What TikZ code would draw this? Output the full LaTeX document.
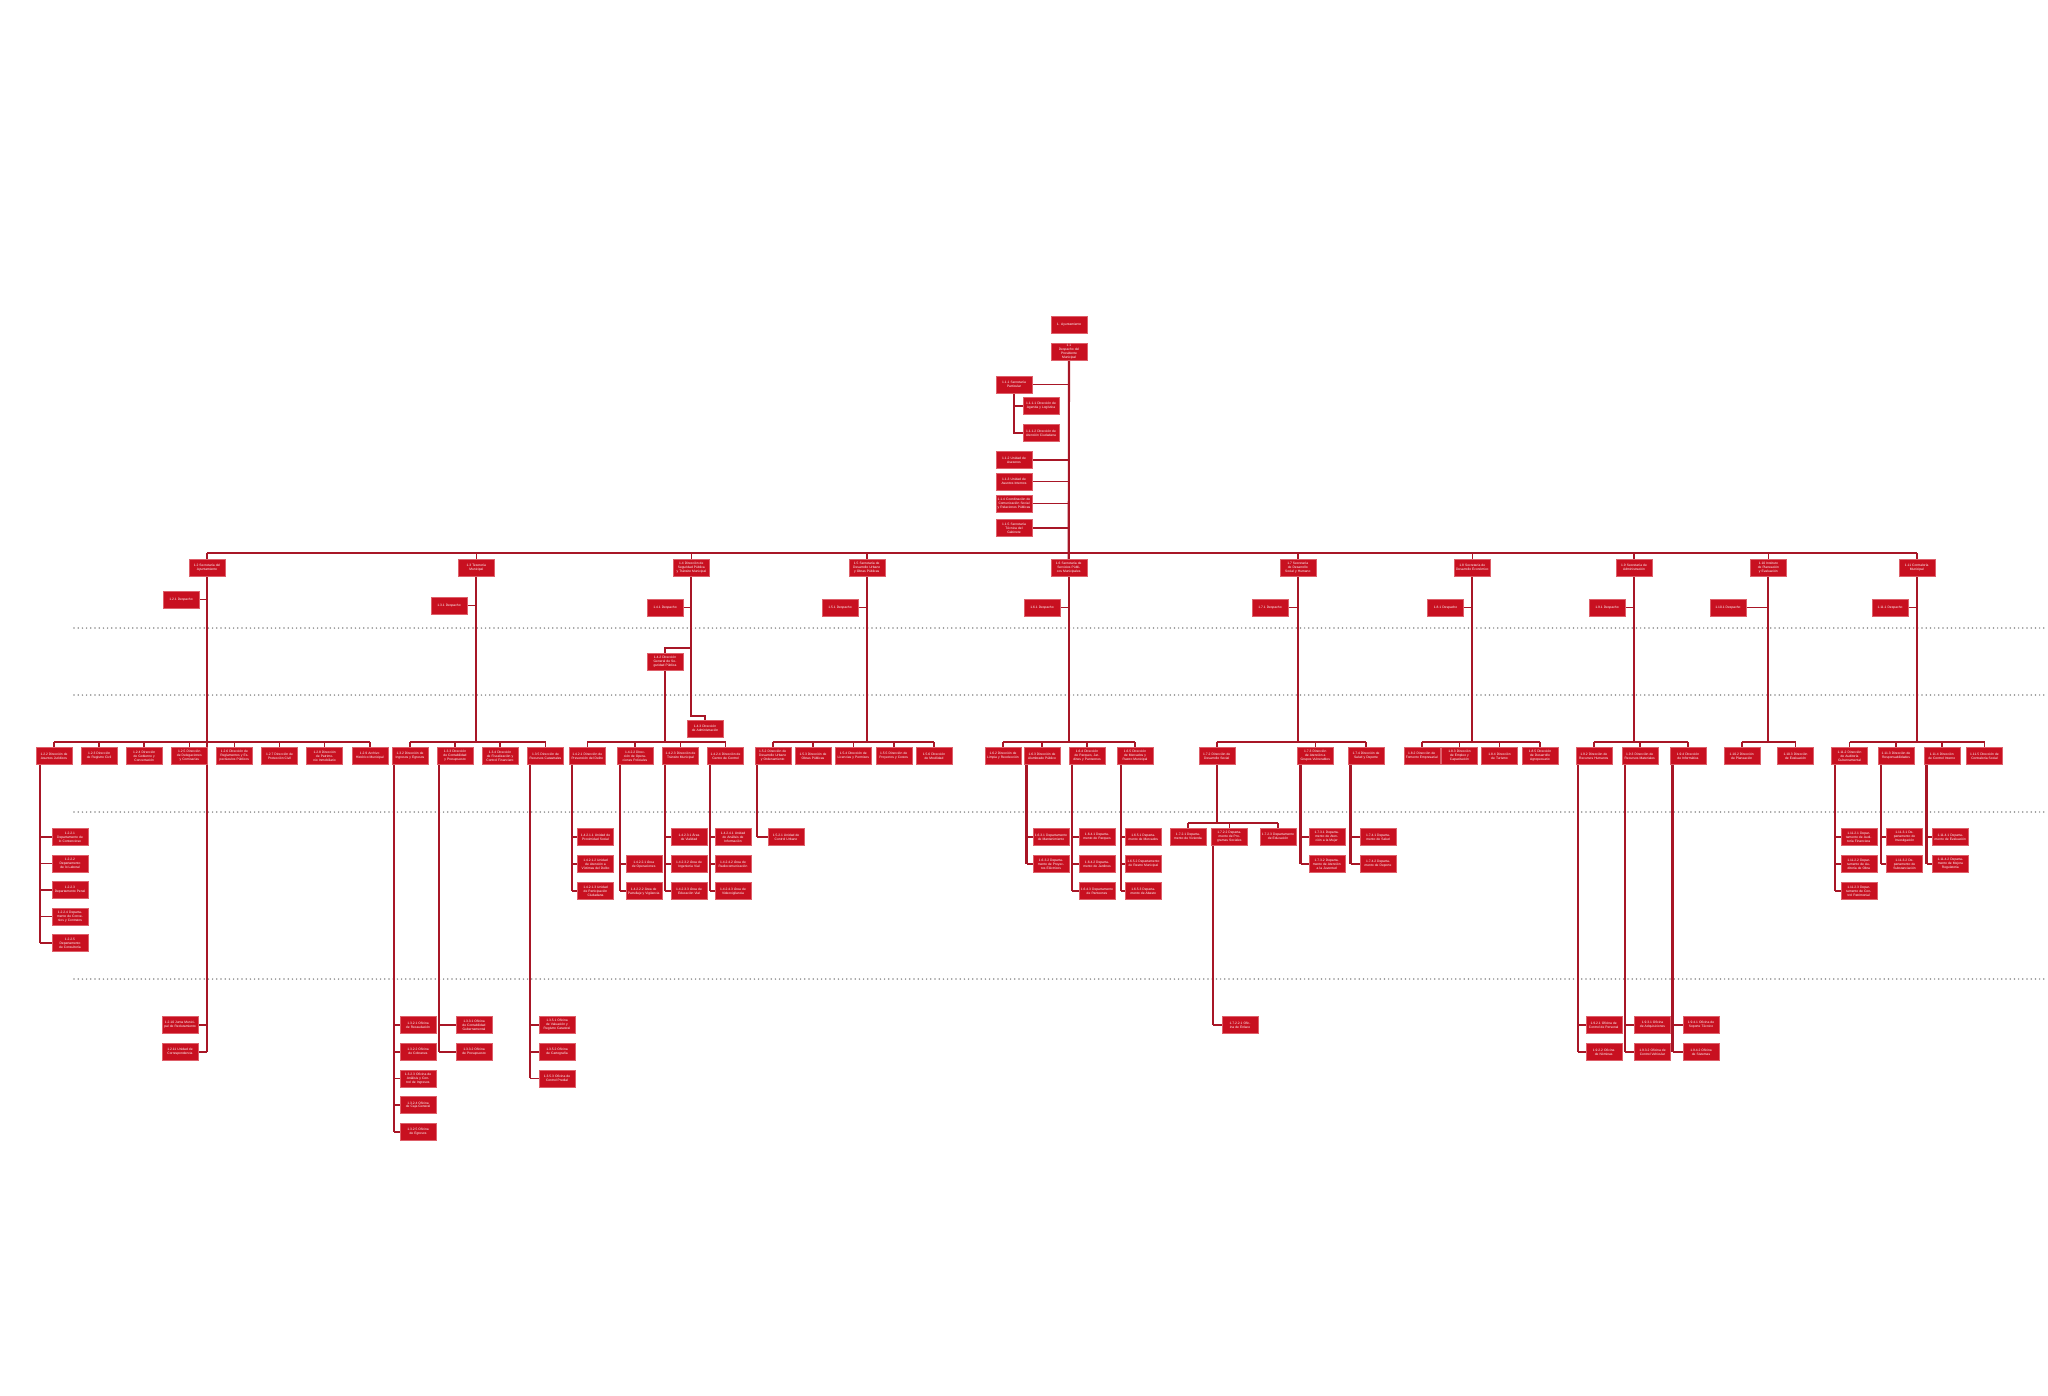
\documentclass[tikz,border=0pt]{standalone}
\usepackage{fontspec}
\setmainfont{Liberation Sans}
\usetikzlibrary{calc}
\pgfdeclarelayer{paper}
\pgfdeclarelayer{bg}
\pgfsetlayers{paper,bg,main}
\definecolor{boxred}{RGB}{200,16,32}
\definecolor{boxedge}{RGB}{222,96,106}
\definecolor{linered}{RGB}{168,22,38}
\definecolor{dotgray}{RGB}{140,140,140}
\tikzset{
 bx/.style={rectangle, fill=boxred, draw=boxedge, line width=0.4pt, minimum width=36pt, minimum height=17pt, text width=33pt, inner sep=0.6pt, align=center, text=white, font=\fontsize{3.3}{3.9}\selectfont},
 ln/.style={draw=linered, line width=2.1pt},
 tk/.style={draw=linered, line width=1.6pt},
 dotrow/.style={draw=dotgray, line width=1.7pt, line cap=round, dash pattern=on 0pt off 4.2pt},
}
\newcommand{\subdrop}[4]{%
 \coordinate (L#1) at ([xshift=#2pt]#1.south west);
 \draw[ln] (L#1) -- (L#1 |- #4.west);
 \foreach \s in {#3} \draw[tk] (\s.west) -- (\s.west -| L#1);
}
\newcommand{\kidbus}[3]{%
 \draw[tk] (#1.north |- bus) -- (#2.north |- bus);
 \foreach \s in {#3} \draw[tk] (\s.north) -- (\s.north |- bus);
}
\begin{document}
\begin{tikzpicture}[x=1pt,y=-1pt]
\begin{pgfonlayer}{paper}
\fill[white] (0,0) rectangle (2048,1395);
\foreach \yy in {628,695,812,979} \draw[dotrow] (74,\yy) -- (2046,\yy);
\end{pgfonlayer}
\useasboundingbox (0,0) rectangle (2048,1395);
\coordinate (hbus) at (0,553);
\coordinate (bus) at (0,742);
\coordinate (sbus) at (0,822.7);

% ---------- top ----------
\node[bx] (t1) at (1069,325) {1. Ayuntamiento};
\node[bx] (t2) at (1069,351.5) {1.1\\Despacho del Presidente\\Municipal};
\node[bx] (p1) at (1014,384.5) {1.1.1 Secretaría\\Particular};
\node[bx] (p11) at (1041,406) {1.1.1.1 Dirección de\\Agenda y Logística};
\node[bx] (p12) at (1041,433) {1.1.1.2 Dirección de\\Atención Ciudadana};
\node[bx] (p2) at (1014,460) {1.1.2 Unidad de\\Asesores};
\node[bx] (p3) at (1014,481.5) {1.1.3 Unidad de\\Asuntos Internos};
\node[bx] (p4) at (1014,503.5) {1.1.4 Coordinación de Comunicación Social y Relaciones Públicas};
\node[bx] (p5) at (1014,528) {1.1.5 Secretaría\\Técnica del\\Gabinete};

% ---------- headers ----------
\node[bx] (h1) at (207,567.5) {1.2 Secretaría del\\Ayuntamiento};
\node[bx] (h2) at (476.3,567.5) {1.3 Tesorería\\Municipal};
\node[bx] (h3) at (691.3,567.5) {1.4 Dirección de Seguridad Pública y Tránsito Municipal};
\node[bx] (h4) at (866.7,567.5) {1.5 Secretaría de Desarrollo Urbano y Obras Públicas};
\node[bx] (h5) at (1068.7,567.5) {1.6 Secretaría de Servicios Públicos Municipales};
\node[bx] (h6) at (1297.7,567.5) {1.7 Secretaría de Desarrollo Social y Humano};
\node[bx] (h7) at (1472.3,567.5) {1.8 Secretaría de Desarrollo Económico};
\node[bx] (h8) at (1634,567.5) {1.9 Secretaría de\\Administración};
\node[bx] (h9) at (1768.3,567.5) {1.10 Instituto de Planeación y Evaluación};
\node[bx] (h10) at (1916.7,567.5) {1.11 Contraloría\\Municipal};

% ---------- assistants ----------
\node[bx] (a1) at (181,599.5) {1.2.1 Despacho};
\node[bx] (a2) at (449,605.5) {1.3.1 Despacho};
\node[bx] (a3) at (665,607.5) {1.4.1 Despacho};
\node[bx] (a4) at (840,607.5) {1.5.1 Despacho};
\node[bx] (a5) at (1042,607.5) {1.6.1 Despacho};
\node[bx] (a6) at (1270,607.5) {1.7.1 Despacho};
\node[bx] (a7) at (1445.5,607.5) {1.8.1 Despacho};
\node[bx] (a8) at (1607,607.5) {1.9.1 Despacho};
\node[bx] (a9) at (1728,607.5) {1.10.1 Despacho};
\node[bx] (a10) at (1890,607.5) {1.11.1 Despacho};

% ---------- section 1 ----------
\node[bx] (c1a) at (54,756) {1.2.2 Dirección de Asuntos Jurídicos};
\node[bx] (c1b) at (99.1,756) {1.2.3 Dirección de Registro Civil};
\node[bx] (c1c) at (144.2,756) {1.2.4 Dirección de Gobierno y Concertación};
\node[bx] (c1d) at (189.3,756) {1.2.5 Dirección de Delegaciones y Comisarías};
\node[bx] (c1e) at (234.4,756) {1.2.6 Dirección de Reglamentos y Espectáculos Públicos};
\node[bx] (c1f) at (279.5,756) {1.2.7 Dirección de Protección Civil};
\node[bx] (c1g) at (324.6,756) {1.2.8 Dirección de Patrimonio Inmobiliario};
\node[bx] (c1h) at (369.7,756) {1.2.9 Archivo Histórico Municipal};
\node[bx] (s1a1) at (70,837) {1.2.2.1\\Departamento de lo Contencioso};
\node[bx] (s1a2) at (70,863.5) {1.2.2.2\\Departamento de lo Laboral};
\node[bx] (s1a3) at (70,890) {1.2.2.3\\Departamento Penal};
\node[bx] (s1a4) at (70,916.5) {1.2.2.4 Departamento de Convenios y Contratos};
\node[bx] (s1a5) at (70,943) {1.2.2.5\\Departamento de Consultoría};
\node[bx] (b1) at (180,1025) {1.2.10 Junta Municipal de Reclutamiento};
\node[bx] (b2) at (180,1052) {1.2.11 Unidad de Correspondencia};

% ---------- section 2 ----------
\node[bx] (c2a) at (410,756) {1.3.2 Dirección de Ingresos y Egresos};
\node[bx] (c2b) at (455,756) {1.3.3 Dirección de Contabilidad y Presupuesto};
\node[bx] (c2c) at (500,756) {1.3.4 Dirección de Fiscalización y Control Financiero};
\node[bx] (c2d) at (545.5,756) {1.3.5 Dirección de Recursos Catastrales};
\node[bx] (s2a1) at (418,1025) {1.3.2.1 Oficina de Recaudación};
\node[bx] (s2a2) at (418,1051.7) {1.3.2.2 Oficina de Cobranza};
\node[bx] (s2a3) at (418,1078.4) {1.3.2.3 Oficina de Análisis y Control de Ingresos};
\node[bx] (s2a4) at (418,1105.1) {1.3.2.4 Oficina de Caja General};
\node[bx] (s2a5) at (418,1131.8) {1.3.2.5 Oficina de Egresos};
\node[bx] (s2b1) at (474,1025) {1.3.3.1 Oficina de Contabilidad Gubernamental};
\node[bx] (s2b2) at (474,1051.7) {1.3.3.2 Oficina de Presupuesto};
\node[bx] (s2d1) at (557,1025) {1.3.5.1 Oficina de Valuación y Registro Catastral};
\node[bx] (s2d2) at (557,1051.7) {1.3.5.2 Oficina de Cartografía};
\node[bx] (s2d3) at (557,1078.4) {1.3.5.3 Oficina de Control Predial};

% ---------- section 3 ----------
\node[bx] (m1) at (665,661.5) {1.4.2 Dirección General de Seguridad Pública};
\node[bx] (m2) at (705,728.5) {1.4.3 Dirección de Administración};
\node[bx] (c3a) at (587.3,756) {1.4.2.1 Dirección de Prevención del Delito};
\node[bx] (c3b) at (635,756) {1.4.2.2 Dirección de Operaciones Policiales};
\node[bx] (c3c) at (680.5,756) {1.4.2.3 Dirección de Tránsito Municipal};
\node[bx] (c3d) at (725.5,756) {1.4.2.4 Dirección de Centro de Control};
\node[bx] (s3a1) at (595.5,837) {1.4.2.1.1 Unidad de Proximidad Social};
\node[bx] (s3a2) at (595.5,864) {1.4.2.1.2 Unidad de Atención a Víctimas del Delito};
\node[bx] (s3a3) at (595.5,891) {1.4.2.1.3 Unidad de Participación Ciudadana};
\node[bx] (s3b2) at (643.7,864) {1.4.2.2.1 Área de Operaciones};
\node[bx] (s3b3) at (643.7,891) {1.4.2.2.2 Área de Patrullaje y Vigilancia};
\node[bx] (s3c1) at (689,837) {1.4.2.3.1 Área de Vialidad};
\node[bx] (s3c2) at (689,864) {1.4.2.3.2 Área de Ingeniería Vial};
\node[bx] (s3c3) at (689,891) {1.4.2.3.3 Área de Educación Vial};
\node[bx] (s3d1) at (733,837) {1.4.2.4.1 Unidad de Análisis de Información};
\node[bx] (s3d2) at (733,864) {1.4.2.4.2 Área de Radiocomunicación};
\node[bx] (s3d3) at (733,891) {1.4.2.4.3 Área de Videovigilancia};

% ---------- section 4 ----------
\node[bx] (c4a) at (772.7,756) {1.5.2 Dirección de Desarrollo Urbano y Ordenamiento};
\node[bx] (c4b) at (813,756) {1.5.3 Dirección de Obras Públicas};
\node[bx] (c4c) at (853.3,756) {1.5.4 Dirección de Licencias y Permisos};
\node[bx] (c4d) at (893.7,756) {1.5.5 Dirección de Proyectos y Costos};
\node[bx] (c4e) at (934,756) {1.5.6 Dirección de Movilidad};
\node[bx] (s4a1) at (786,837) {1.5.2.1 Unidad de Control Urbano};

% ---------- section 5 ----------
\node[bx] (c5a) at (1003,756) {1.6.2 Dirección de Limpia y Recolección};
\node[bx] (c5b) at (1042,756) {1.6.3 Dirección de Alumbrado Público};
\node[bx] (c5c) at (1087,756) {1.6.4 Dirección de Parques, Jardines y Panteones};
\node[bx] (c5d) at (1135,756) {1.6.5 Dirección de Mercados y Rastro Municipal};
\node[bx] (s5b1) at (1051,837) {1.6.3.1 Departamento de Mantenimiento};
\node[bx] (s5b2) at (1051,864) {1.6.3.2 Departamento de Proyectos Eléctricos};
\node[bx] (s5c1) at (1097,837) {1.6.4.1 Departamento de Parques};
\node[bx] (s5c2) at (1097,864) {1.6.4.2 Departamento de Jardines};
\node[bx] (s5c3) at (1097,891) {1.6.4.3 Departamento de Panteones};
\node[bx] (s5d1) at (1143.3,837) {1.6.5.1 Departamento de Mercados};
\node[bx] (s5d2) at (1143.3,864) {1.6.5.2 Departamento de Rastro Municipal};
\node[bx] (s5d3) at (1143.3,891) {1.6.5.3 Departamento de Abasto};

% ---------- section 6 ----------
\node[bx] (c6a) at (1216.7,756) {1.7.2 Dirección de Desarrollo Social};
\node[bx] (c6b) at (1315.3,756) {1.7.3 Dirección de Atención a Grupos Vulnerables};
\node[bx] (c6c) at (1366,756) {1.7.4 Dirección de Salud y Deporte};
\node[bx] (s6a1) at (1188,836.5) {1.7.2.1 Departamento de Vivienda};
\node[bx] (s6a2) at (1229.3,836.5) {1.7.2.2 Departamento de Programas Sociales};
\node[bx] (s6a3) at (1278,836.5) {1.7.2.3 Departamento de Educación};
\node[bx] (u6) at (1240,1025) {1.7.2.2.1 Oficina de Enlace};
\node[bx] (s6b1) at (1326.7,837) {1.7.3.1 Departamento de Atención a la Mujer};
\node[bx] (s6b2) at (1326.7,864) {1.7.3.2 Departamento de Atención a la Juventud};
\node[bx] (s6c1) at (1378,837) {1.7.4.1 Departamento de Salud};
\node[bx] (s6c2) at (1378,864) {1.7.4.2 Departamento de Deporte};

% ---------- section 7 ----------
\node[bx] (c7a) at (1421.7,756) {1.8.2 Dirección de Fomento Empresarial};
\node[bx] (c7b) at (1459.5,756) {1.8.3 Dirección de Empleo y Capacitación};
\node[bx] (c7c) at (1499.5,756) {1.8.4 Dirección de Turismo};
\node[bx] (c7d) at (1540,756) {1.8.5 Dirección de Desarrollo Agropecuario};

% ---------- section 8 ----------
\node[bx] (c8a) at (1593.8,756) {1.9.2 Dirección de Recursos Humanos};
\node[bx] (c8b) at (1639.7,756) {1.9.3 Dirección de Recursos Materiales};
\node[bx] (c8c) at (1688,756) {1.9.4 Dirección de Informática};
\node[bx] (s8a1) at (1603.7,1025) {1.9.2.1 Oficina de Control de Personal};
\node[bx] (s8a2) at (1603.7,1052) {1.9.2.2 Oficina de Nóminas};
\node[bx] (s8b1) at (1652.5,1025) {1.9.3.1 Oficina de Adquisiciones};
\node[bx] (s8b2) at (1652.5,1052) {1.9.3.2 Oficina de Control Vehicular};
\node[bx] (s8c1) at (1701,1025) {1.9.4.1 Oficina de Soporte Técnico};
\node[bx] (s8c2) at (1701,1052) {1.9.4.2 Oficina de Sistemas};

% ---------- section 9 ----------
\node[bx] (c9a) at (1741.7,756) {1.10.2 Dirección de Planeación};
\node[bx] (c9b) at (1795.5,756) {1.10.3 Dirección de Evaluación};

% ---------- section 10 ----------
\node[bx] (c10a) at (1849.5,756) {1.11.2 Dirección de Auditoría Gubernamental};
\node[bx] (c10b) at (1896,756) {1.11.3 Dirección de Responsabilidades};
\node[bx] (c10c) at (1941.7,756) {1.11.4 Dirección de Control Interno};
\node[bx] (c10d) at (1984.5,756) {1.11.5 Dirección de Contraloría Social};
\node[bx] (s10a1) at (1858.7,837) {1.11.2.1 Departamento de Auditoría Financiera};
\node[bx] (s10a2) at (1858.7,864) {1.11.2.2 Departamento de Auditoría de Obra};
\node[bx] (s10a3) at (1858.7,891) {1.11.2.3 Departamento de Control Patrimonial};
\node[bx] (s10b1) at (1904.5,837) {1.11.3.1 Departamento de Investigación};
\node[bx] (s10b2) at (1904.5,864) {1.11.3.2 Departamento de Substanciación};
\node[bx] (s10c1) at (1950.3,837) {1.11.4.1 Departamento de Evaluación};
\node[bx] (s10c2) at (1950.3,864) {1.11.4.2 Departamento de Mejora Regulatoria};

\begin{pgfonlayer}{bg}
% top
\draw[ln] (t2.south) -- (h5.north);
\foreach \n in {p1,p2,p3,p4,p5} \draw[tk] (\n.east) -- (\n.east -| t2.south);
\draw[ln] (p1.south) |- (p12.west);
\draw[tk] (p11.west) -- (p11.west -| p1.south);
% header bus
\draw[ln] (h1.north |- hbus) -- (h10.north |- hbus);
\foreach \n in {h1,h2,h3,h4,h5,h6,h7,h8,h9,h10} \draw[tk] (\n.north) -- (\n.north |- hbus);
% assistants
\foreach \a/\h in {a1/h1,a2/h2,a3/h3,a4/h4,a5/h5,a6/h6,a7/h7,a8/h8,a9/h9,a10/h10}
  \draw[tk] (\a.east) -- (\a.east -| \h.south);
% section 1
\draw[ln] (h1.south) -- (h1.south |- b2.east);
\foreach \n in {b1,b2} \draw[tk] (\n.east) -- (\n.east -| h1.south);
\kidbus{c1a}{c1h}{c1a,c1b,c1c,c1d,c1e,c1f,c1g,c1h}
\subdrop{c1a}{4.5}{s1a1,s1a2,s1a3,s1a4,s1a5}{s1a5}
% section 2
\draw[ln] (h2.south) -- (h2.south |- bus);
\kidbus{c2a}{c2d}{c2a,c2b,c2c,c2d}
\subdrop{c2a}{2}{s2a1,s2a2,s2a3,s2a4,s2a5}{s2a5}
\subdrop{c2b}{2}{s2b1,s2b2}{s2b2}
\subdrop{c2d}{3}{s2d1,s2d2,s2d3}{s2d3}
% section 3
\coordinate (j3a) at (691.3,647.7);
\coordinate (j3b) at (691.3,715.7);
\draw[ln] (h3.south) -- (j3b) -| (m2.north);
\draw[ln] (j3a) -| (m1.north);
\draw[ln] (m1.south) -- (m1.south |- bus);
\kidbus{c3a}{c3d}{c3a,c3b,c3c,c3d}
\subdrop{c3a}{3}{s3a1,s3a2,s3a3}{s3a3}
\subdrop{c3b}{3}{s3b2,s3b3}{s3b3}
\subdrop{c3c}{3}{s3c1,s3c2,s3c3}{s3c3}
\subdrop{c3d}{3}{s3d1,s3d2,s3d3}{s3d3}
% section 4
\draw[ln] (h4.south) -- (h4.south |- bus);
\kidbus{c4a}{c4e}{c4a,c4b,c4c,c4d,c4e}
\subdrop{c4a}{2.6}{s4a1}{s4a1}
% section 5
\draw[ln] (h5.south) -- (h5.south |- bus);
\kidbus{c5a}{c5d}{c5a,c5b,c5c,c5d}
\subdrop{c5b}{2.7}{s5b1,s5b2}{s5b2}
\subdrop{c5c}{3.3}{s5c1,s5c2,s5c3}{s5c3}
\subdrop{c5d}{4}{s5d1,s5d2,s5d3}{s5d3}
% section 6
\draw[ln] (h6.south) -- (h6.south |- bus);
\kidbus{c6a}{c6c}{c6a,c6b,c6c}
\draw[ln] (c6a.south) -- (c6a.south |- sbus);
\draw[tk] (s6a1.north |- sbus) -- (s6a3.north |- sbus);
\foreach \n in {s6a1,s6a2,s6a3} \draw[tk] (\n.north) -- (\n.north |- sbus);
\subdrop{s6a2}{2}{u6}{u6}
\subdrop{c6b}{3.4}{s6b1,s6b2}{s6b2}
\subdrop{c6c}{2.7}{s6c1,s6c2}{s6c2}
% section 7
\draw[ln] (h7.south) -- (h7.south |- bus);
\kidbus{c7a}{c7d}{c7a,c7b,c7c,c7d}
% section 8
\draw[ln] (h8.south) -- (h8.south |- bus);
\kidbus{c8a}{c8c}{c8a,c8b,c8c}
\subdrop{c8a}{2.5}{s8a1,s8a2}{s8a2}
\subdrop{c8b}{3.3}{s8b1,s8b2}{s8b2}
\subdrop{c8c}{2.7}{s8c1,s8c2}{s8c2}
% section 9
\draw[ln] (h9.south) -- (h9.south |- bus);
\kidbus{c9a}{c9b}{c9a,c9b}
% section 10
\draw[ln] (h10.south) -- (h10.south |- bus);
\kidbus{c10a}{c10d}{c10a,c10b,c10c,c10d}
\subdrop{c10a}{3.5}{s10a1,s10a2,s10a3}{s10a3}
\subdrop{c10b}{3}{s10b1,s10b2}{s10b2}
\subdrop{c10c}{3}{s10c1,s10c2}{s10c2}
\end{pgfonlayer}
\end{tikzpicture}
\end{document}
